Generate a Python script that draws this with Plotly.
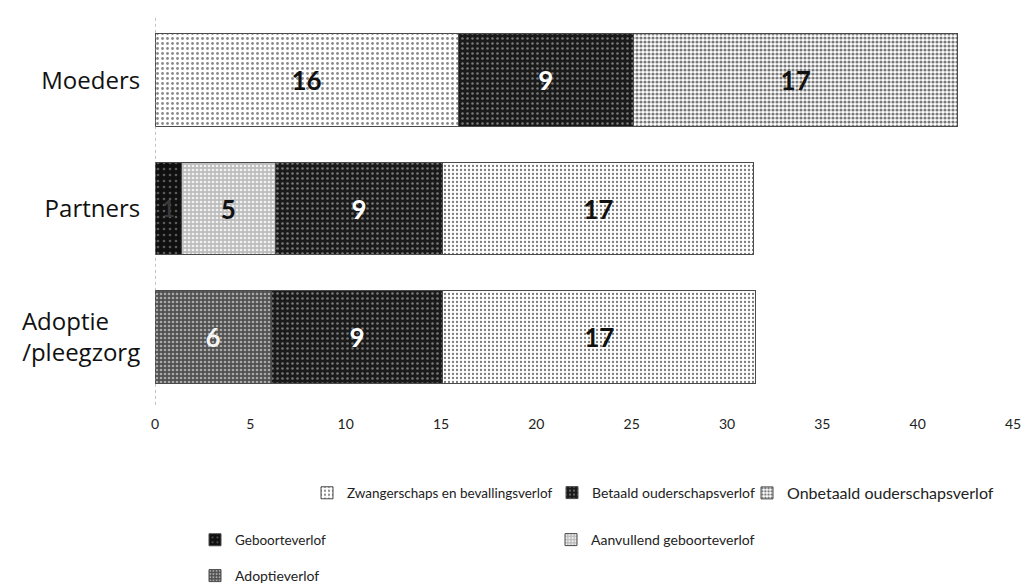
import plotly.graph_objects as go

# ---------------- data (weeks) ----------------
categories = ["Moeders", "Partners", "Adoptie<br>/pleegzorg"]
category_labels = ["Moeders", "Partners",
                   "Adoptie&nbsp;&nbsp;&nbsp;&nbsp;&nbsp;<br>/pleegzorg"]

zwangerschaps = [15.9, 0, 0]
geboorteverlof = [0, 1.4, 0]
aanvullend = [0, 4.9, 0]
adoptieverlof = [0, 0, 6.1]
betaald = [9.2, 8.8, 9.0]
onbetaald = [17.0, 16.3, 16.4]

# data labels as printed on the bars
lbl_zwangerschaps = ["16", "", ""]
lbl_geboorteverlof = ["", "1", ""]
lbl_aanvullend = ["", "5", ""]
lbl_adoptieverlof = ["", "", "6"]
lbl_betaald = ["9", "9", "9"]
lbl_onbetaald = ["17", "17", "17"]

x_ticks = [0, 5, 10, 15, 20, 25, 30, 35, 40, 45]

names = {
    "zw": "Zwangerschaps en bevallingsverlof",
    "be": "Betaald ouderschapsverlof",
    "on": "Onbetaald ouderschapsverlof",
    "ge": "Geboorteverlof",
    "aa": "Aanvullend geboorteverlof",
    "ad": "Adoptieverlof",
}

FONT = "Lato, 'Open Sans', sans-serif"
W, H = 1024, 585
ML, MR, MT, MB = 155, 11, 16, 184
PW, PH = W - ML - MR, H - MT - MB


def bar(x, text, name, legend, bg, fg, solidity, size, tcolor, tsize=26):
    return go.Bar(
        y=categories, x=x, name=name, orientation="h", legend=legend,
        text=text, textposition="inside", insidetextanchor="middle",
        textangle=0,
        textfont=dict(family=FONT, size=tsize, color=tcolor, weight="bold"),
        marker=dict(color=bg,
                    line=dict(color="#4a4a4a", width=1),
                    pattern=dict(shape=".", bgcolor=bg, fgcolor=fg,
                                 solidity=solidity, size=size,
                                 fillmode="replace")),
        hoverinfo="x+name",
    )


fig = go.Figure()
fig.add_trace(bar(zwangerschaps, lbl_zwangerschaps, names["zw"], "legend",
                  "#ffffff", "#8a8a8a", 0.25, 5, "#111"))
fig.add_trace(bar(geboorteverlof, lbl_geboorteverlof, names["ge"], "legend4",
                  "#101010", "#5a5a5a", 0.15, 6, "#3a3a3a", 22))
fig.add_trace(bar(aanvullend, lbl_aanvullend, names["aa"], "legend5",
                  "#bdbdbd", "#f2f2f2", 0.35, 4, "#111"))
fig.add_trace(bar(adoptieverlof, lbl_adoptieverlof, names["ad"], "legend6",
                  "#505050", "#a8a8a8", 0.35, 4, "#f4f4f4"))
fig.add_trace(bar(betaald, lbl_betaald, names["be"], "legend2",
                  "#1a1a1a", "#7a7a7a", 0.2, 5, "#ffffff"))
fig.add_trace(bar(onbetaald, lbl_onbetaald, names["on"], "legend3",
                  "#ffffff", "#7a7a7a", [0.5, 0.25, 0.25], 4, "#111"))


def leg(px, py, size=14):
    return dict(xref="paper", yref="paper",
                x=(px - ML) / PW, y=(H - MB - py) / PH,
                xanchor="left", yanchor="middle",
                bgcolor="rgba(0,0,0,0)", borderwidth=0,
                font=dict(family=FONT, size=size, color="#222"),
                itemwidth=30, tracegroupgap=0)


fig.update_layout(
    width=W, height=H,
    paper_bgcolor="white", plot_bgcolor="white",
    barmode="stack", bargap=0.28,
    margin=dict(l=ML, r=MR, t=MT, b=MB, autoexpand=False),
    font=dict(family=FONT, color="#222"),
    showlegend=True,
    legend=leg(307, 493, 13.5),
    legend2=leg(552, 493, 14),
    legend3=leg(747, 493, 16),
    legend4=leg(195, 540, 13.5),
    legend5=leg(551, 540, 14),
    legend6=leg(195, 576, 14),
    xaxis=dict(range=[0, 45], tickvals=x_ticks, showgrid=False,
               zeroline=False, showline=False, ticks="outside",
               ticklen=10, tickcolor="rgba(0,0,0,0)",
               tickfont=dict(size=14, color="#222"), fixedrange=True),
    yaxis=dict(categoryorder="array", categoryarray=categories,
               tickvals=categories, ticktext=category_labels,
               autorange="reversed", showgrid=False, zeroline=False,
               showline=False, ticks="outside", ticklen=9,
               tickcolor="rgba(0,0,0,0)",
               tickfont=dict(family="'Open Sans', sans-serif", size=24,
                             color="#111"), fixedrange=True),
    shapes=[dict(type="line", xref="x", x0=0, x1=0, yref="paper",
                 y0=-0.01, y1=1.0, line=dict(color="#888", width=1,
                                             dash="dot"))],
)

fig.write_html(
    "out.html",
    config={"displayModeBar": False},
    post_script="document.body.style.margin='0';"
                "document.body.style.overflow='hidden';",
)
